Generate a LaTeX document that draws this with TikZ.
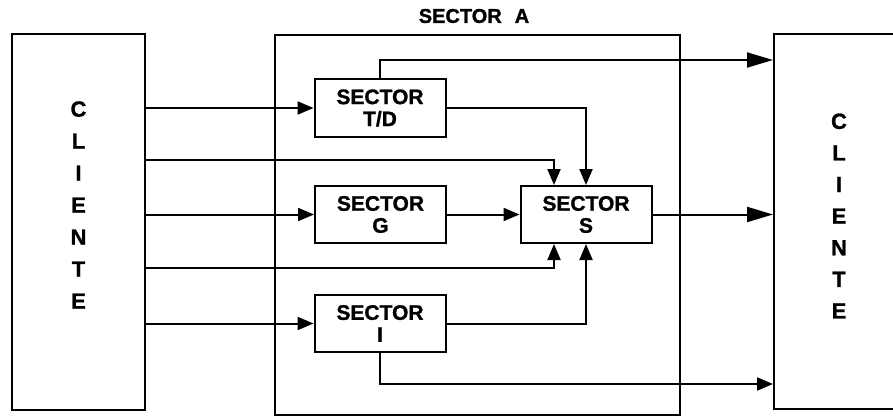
\documentclass[tikz,border=0pt]{standalone}
\usepackage{fontspec}
\setmainfont{Liberation Sans}[BoldFeatures={FakeBold=1.2}]
\usetikzlibrary{arrows.meta,positioning,calc}
\tikzset{secbox/.style={draw,line width=2pt,inner sep=0pt,align=center,
 font=\fontsize{21}{22}\selectfont\bfseries,minimum width=131pt,minimum height=57pt},
 clibox/.style={draw,line width=2pt,inner sep=0pt},
 cliword/.style={align=center,inner sep=0pt,font=\fontsize{22}{32}\selectfont\bfseries},
 flowline/.style={line width=2pt,-{Triangle[length=16pt,width=13pt]}},
 bigline/.style={line width=2pt,-{Triangle[length=26pt,width=15pt]}}}

\begin{document}
\begin{tikzpicture}[x=1pt,y=-1pt]
\clip (0,0) rectangle (893,417);
\fill[white] (0,0) rectangle (893,417);
% clientes y sector A
\node[clibox,minimum width=133pt,minimum height=376pt] (cl) at (78.5,222) {};
\node[cliword] at ($(cl.center)+(0,-17)$) {C\\L\\I\\E\\N\\T\\E};
\node[clibox,minimum width=140pt,minimum height=375pt] (cr) at (844,221.5) {};
\node[cliword,font=\fontsize{22}{31.6}\selectfont\bfseries] at (839,216) {C\\L\\I\\E\\N\\T\\E};
\node[clibox,minimum width=405pt,minimum height=380pt] (sa) at (477.5,225) {};
\node[font=\fontsize{20}{22}\selectfont\bfseries,inner sep=0pt] (sat) at (474,16) {SECTOR\hspace{13pt}A};
% sectores
\node[secbox] (td) at (380,108) {SECTOR\\T/D};
\node[secbox] (g) at (380.5,214.5) {SECTOR\\G};
\node[secbox] (i) at (380,323.5) {SECTOR\\I};
\node[secbox] (s) at (586,214.5) {SECTOR\\S};
% flechas
\draw[flowline] (cl.east |- td.west)--(td.west);
\draw[flowline] (cl.east |- g.west)--(g.west);
\draw[flowline] (cl.east |- i.west)--(i.west);
\draw[flowline] (cl.east |- 0,160) -| ([xshift=-32pt]s.north);
\draw[flowline] (cl.east |- 0,268) -| ([xshift=-32pt]s.south);
\draw[flowline] (td.east) -| (s.north);
\draw[flowline] (i.east) -| (s.south);
\draw[flowline] (g)--(s);
\draw[bigline] (td.north) |- (cr.west |- 0,60);
\draw[bigline] (s)--(cr.west |- s);
\draw[flowline] (i.south) |- (cr.west |- 0,384);
\end{tikzpicture}
\end{document}
